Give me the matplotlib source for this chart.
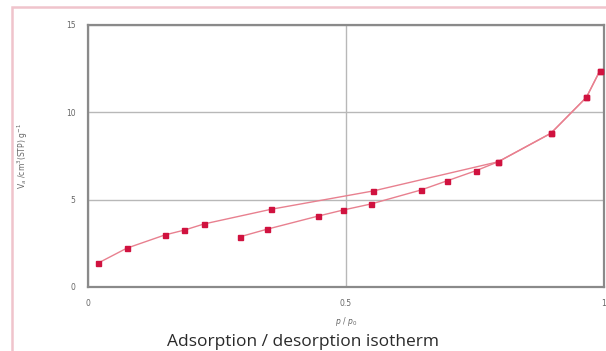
"""
isotherm.py
    adsorption / desorption isotherm plot
"""
import numpy as np
import matplotlib
matplotlib.use('Agg')
import matplotlib.pyplot as plt
from matplotlib.patches import Rectangle

# branch starting at low pressure
p_upper = [0.019, 0.075, 0.149, 0.187, 0.225, 0.355, 0.553, 0.795, 0.897, 0.966, 0.992]
v_upper = [1.36, 2.22, 2.98, 3.26, 3.61, 4.45, 5.50, 7.17, 8.80, 10.86, 12.38]

# lower branch
p_lower = [0.295, 0.346, 0.446, 0.495, 0.548, 0.645, 0.696, 0.752, 0.795, 0.897, 0.966, 0.992]
v_lower = [2.88, 3.30, 4.06, 4.41, 4.75, 5.55, 6.08, 6.66, 7.17, 8.80, 10.86, 12.38]

x_ticks = [0, 0.5, 1]
x_ticklabels = ['0', '0.5', '1']
y_ticks = [0, 5, 10, 15]

line_col = '#e8808f'
mark_col = '#d0123f'

fig = plt.figure(figsize=(6.06, 3.51), dpi=100)
fig.patch.set_facecolor('white')

# pink frame around the whole panel
fig.patches.append(Rectangle((12 / 606, -0.2), 1.2, 1.2 - 7 / 351,
                             transform=fig.transFigure, fill=False,
                             edgecolor='#f0c4cc', linewidth=1.8))

ax = fig.add_axes([88 / 606, 64 / 351, 516 / 606, 262 / 351])

for p, v in [(p_upper, v_upper), (p_lower, v_lower)]:
    ax.plot(p, v, color=line_col, linewidth=1.0, zorder=2)
    ax.plot(p, v, linestyle='none', marker='s', markersize=3.6,
            markerfacecolor=mark_col, markeredgecolor=mark_col, zorder=3)

ax.set_xlim(0, 1)
ax.set_ylim(0, 15)
ax.set_xticks(x_ticks)
ax.set_xticklabels(x_ticklabels)
ax.set_yticks(y_ticks)

ax.grid(True, color='#b8b8b8', linewidth=1.0)
ax.set_axisbelow(True)
for s in ax.spines.values():
    s.set_color('#8a8a8a')
    s.set_linewidth(1.6)

ax.tick_params(length=0, labelsize=5.5, colors='#666666', pad=9)

ax.set_xlabel(r'$p\ /\ p_0$', fontsize=5.5, color='#666666', labelpad=5)
ax.set_ylabel(r'V$_a$ /cm$^3$(STP) g$^{-1}$', fontsize=5.5, color='#666666', labelpad=26)

fig.text(0.5, 9 / 351, 'Adsorption / desorption isotherm', ha='center', va='center',
         fontsize=12.5, color='#2a2a2a', family='Open Sans')

fig.savefig('out.png', dpi=100)
